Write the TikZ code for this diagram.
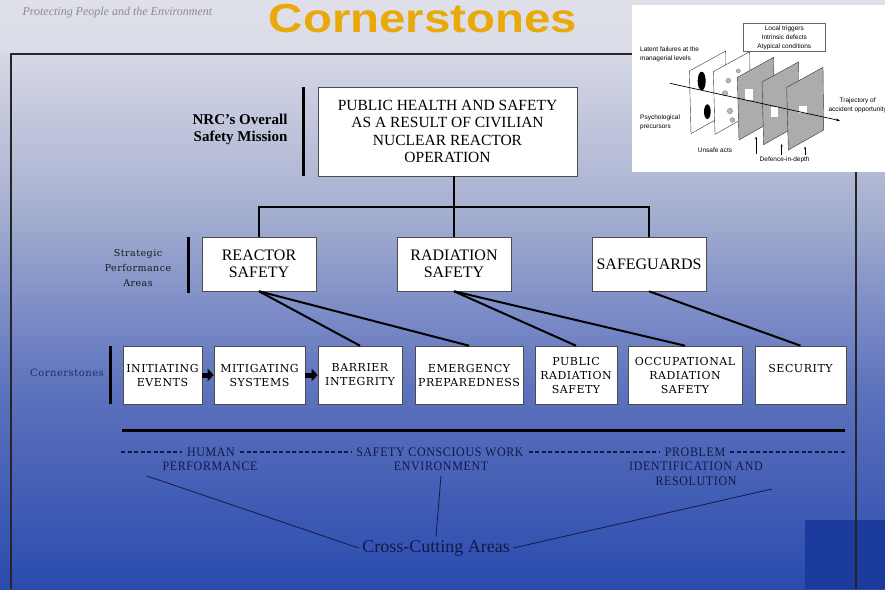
\documentclass[tikz,border=0pt]{standalone}
\usepackage{fontspec}
\setmainfont{Liberation Serif}
\setsansfont{Liberation Sans}
\newfontfamily\slabfont[LetterSpace=5]{DejaVu Serif}
\newfontfamily\narrowfont[LetterSpace=5,FakeStretch=0.92]{Liberation Serif}
\newfontfamily\titlefont[FakeStretch=1.17]{Liberation Sans}
\usetikzlibrary{arrows.meta}

\definecolor{titlegold}{HTML}{E9A90A}
\definecolor{inkblue}{HTML}{121A45}
\definecolor{labelblue}{HTML}{1C2E6E}
\definecolor{cornerblue}{HTML}{1B3A9E}

\begin{document}
\begin{tikzpicture}[x=1pt,y=-1pt,
  box/.style={draw=black!70,fill=white,line width=0.6pt,align=center,inner sep=2pt},
  missionbox/.style={box,minimum width=259pt,minimum height=89pt,font=\fontsize{15.5}{17.5}\selectfont},
  areabox/.style={box,minimum width=114pt,minimum height=54pt,font=\fontsize{16}{17}\selectfont},
  stonebox/.style={box,minimum height=58pt,font=\slabfont\fontsize{11}{14}\selectfont},
  bar/.style={line width=3pt},
  tree/.style={line width=2.5pt},
  link/.style={line width=2pt},
  flow/.style={line width=5pt,-{Triangle[length=6pt,width=12pt]}},
  dashrule/.style={line width=1.2pt,dash pattern=on 4pt off 2.5pt,draw=inkblue},
  ccarea/.style={font=\narrowfont\fontsize{13}{14.5}\selectfont,text=inkblue,inner sep=5pt,align=center},
  tiny/.style={font=\sffamily\fontsize{6.5}{9}\selectfont,inner sep=0pt,align=center}
]
\useasboundingbox (0,0) rectangle (885,589);

% slide background, light at the top and blue at the foot
\foreach \ya/\yb/\ca/\cb in {0/55/DFE0E9/D9DBE7, 54/201/D6D8E5/A9B2D1,
    200/301/A9B2D1/8090C8, 300/391/8090C8/5D72BD, 390/589/5D72BD/2A4BAE}{
  \definecolor{ca}{HTML}{\ca}\definecolor{cb}{HTML}{\cb}
  \shade[top color=ca,bottom color=cb] (0,\ya) rectangle (885,\yb);
}
\fill[cornerblue] (805,520) rectangle (885,589);

% frame
\draw[line width=1.5pt,black!85] (11,589) -- (11,54) -- (885,54);
\draw[line width=1.5pt,black!85] (856,172) -- (856,589);

% heading
\node[anchor=base west,font=\itshape\fontsize{12}{12}\selectfont,text=black!45] (tagline) at (19,15) {Protecting People and the Environment};
\node[anchor=base,font=\titlefont\bfseries\fontsize{40.5}{40.5}\selectfont,text=titlegold] (title) at (423,32) {Cornerstones};

% swiss cheese inset
\begin{scope}
  \clip (632,5) rectangle (885,172);
  \fill[white] (632,5) rectangle (885,172);
  \begin{scope}[shift={(630,0)},scale=1/3]
    \foreach \px/\py/\shade in {178/213/white, 250/215/white, 322/232/gray!65, 396/246/gray!65, 470/262/gray!65}
      \filldraw[fill=\shade,draw=black!80,line width=0.4pt] (\px,\py) -- ++(109,-60) -- ++(2,188) -- ++(-106,60) -- cycle;
    \fill[black] (215,243) ellipse [x radius=12,y radius=28];
    \fill[black] (232,335) ellipse [x radius=10,y radius=22];
    \foreach \hx/\hy/\hr in {295/242/7, 285/280/8, 325/213/6, 300/333/8, 307/360/7}
      \filldraw[fill=gray!55,draw=gray] (\hx,\hy) circle [radius=\hr];
    \fill[white] (345,268) rectangle (370,300);
    \fill[white] (422,322) rectangle (444,352);
    \fill[white] (508,318) rectangle (532,340);
    \coordinate (trajstart) at (120,250);
    \coordinate (trajend) at (630,362);
    \draw[line width=0.7pt,-{Stealth[length=4pt,width=3pt]}] (trajstart) -- (trajend);
    \node[tiny,draw=black!60,inner sep=2pt,minimum width=82pt,minimum height=28pt] (triggers) at (463,113) {Local triggers\\Intrinsic defects\\Atypical conditions};
    \node[tiny,anchor=west,align=left] (latent) at (30,162) {Latent failures at the\\managerial levels};
    \node[tiny,anchor=west,align=left] (psych) at (30,368) {Psychological\\precursors};
    \node[tiny] (unsafe) at (255,450) {Unsafe acts};
    \node[tiny] (defence) at (464,480) {Defence-in-depth};
    \node[tiny] (trajectory) at (683,316) {Trajectory of\\accident opportunity};
    \foreach \ax/\ay/\az in {378/462/410, 455/466/432, 525/466/440}
      \draw[line width=0.4pt,-{Stealth[length=2.5pt,width=2pt]}] (\ax,\ay) -- (\ax,\az);
  \end{scope}
\end{scope}

% side labels and bars
\node[anchor=east,align=right,font=\bfseries\fontsize{15}{17}\selectfont] (missionlabel) at (291,129) {NRC's Overall\\Safety Mission};
\node[align=center,font=\slabfont\fontsize{9.5}{15}\selectfont,text=black!90] (strategic) at (138,268) {Strategic\\Performance\\Areas};
\node[font=\slabfont\fontsize{10}{12}\selectfont,text=labelblue] (cornerlabel) at (67,373) {Cornerstones};
\draw[bar] (303,87) -- (303,176);
\draw[bar] (188,237) -- (188,293);
\draw[bar] (110,346) -- (110,404);

% mission and strategic areas
\node[missionbox] (mission) at (447.5,131.5) {PUBLIC HEALTH AND SAFETY\\AS A RESULT OF CIVILIAN\\NUCLEAR REACTOR\\OPERATION};
\node[areabox] (reactor) at (259,264) {REACTOR\\SAFETY};
\node[areabox] (radiation) at (454,264) {RADIATION\\SAFETY};
\node[areabox] (safeguards) at (649,264) {SAFEGUARDS};

\coordinate (branch) at (454,207);
\draw[tree] (mission.south -| branch) -- (radiation.north);
\draw[tree] (reactor.north) |- (branch) -| (safeguards.north);

% cornerstones
\node[stonebox,minimum width=79pt] (initiating) at (162.5,375) {INITIATING\\EVENTS};
\node[stonebox,minimum width=91pt] (mitigating) at (259.5,375) {MITIGATING\\SYSTEMS};
\node[stonebox,minimum width=84pt] (barrier) at (360,375) {BARRIER\\INTEGRITY};
\node[stonebox,minimum width=108pt] (emergency) at (469,375) {EMERGENCY\\PREPAREDNESS};
\node[stonebox,minimum width=82pt] (public) at (576,375) {PUBLIC\\RADIATION\\SAFETY};
\node[stonebox,minimum width=114pt] (occupational) at (685,375) {OCCUPATIONAL\\RADIATION\\SAFETY};
\node[stonebox,minimum width=91pt] (security) at (800.5,375) {SECURITY\\\mbox{}};

\draw[flow] (initiating) -- (mitigating);
\draw[flow] (mitigating) -- (barrier);
\foreach \from/\to in {reactor/barrier, reactor/emergency, radiation/public, radiation/occupational, safeguards/security}
  \draw[link] (\from.south) -- (\to.north);

% cross-cutting areas
\draw[line width=3pt] (122,430) -- (845,430);
\coordinate (ccleft) at (121,452);
\coordinate (ccright) at (846,452);
\node[ccarea] (human) at (211,452) {HUMAN};
\node[ccarea] (safetywork) at (440,452) {SAFETY CONSCIOUS WORK};
\node[ccarea] (problem) at (695,452) {PROBLEM};
\node[ccarea] (performance) at (210,466) {PERFORMANCE};
\node[ccarea] (environment) at (441,466) {ENVIRONMENT};
\node[ccarea] (identification) at (696,474) {IDENTIFICATION AND\\RESOLUTION};
\foreach \from/\to in {ccleft/human, human/safetywork, safetywork/problem, problem/ccright}
  \draw[dashrule] (\from) -- (\to);

\node[font=\fontsize{18}{18}\selectfont,text=inkblue] (crosscut) at (436,548) {Cross-Cutting Areas};
\coordinate (ccfoot) at (147,476);
\coordinate (ccend) at (772,489);
\draw[line width=0.8pt,inkblue] (ccfoot) -- (crosscut.west);
\draw[line width=0.8pt,inkblue] (environment.south) -- (crosscut.north);
\draw[line width=0.8pt,inkblue] (ccend) -- (crosscut.east);
\end{tikzpicture}
\end{document}
